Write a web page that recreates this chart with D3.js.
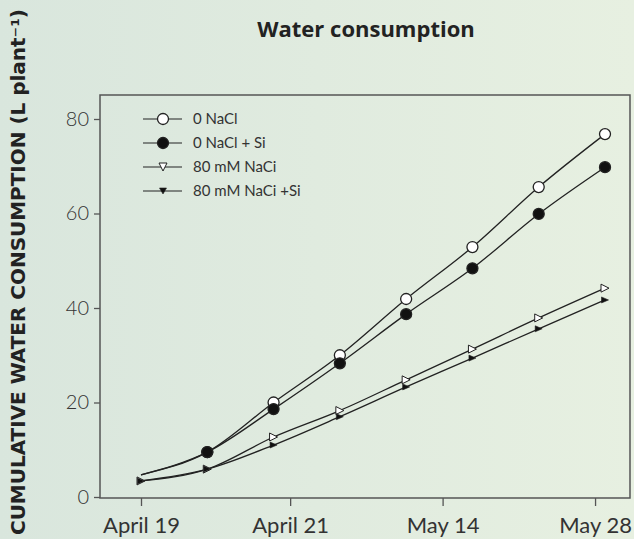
<!DOCTYPE html>
<html>
<head>
<meta charset="utf-8">
<script src="https://cdn.jsdelivr.net/npm/d3@7/dist/d3.min.js"></script>
<style>
  html, body { margin: 0; padding: 0; }
  body { width: 634px; height: 539px; overflow: hidden; }
</style>
</head>
<body>
<div id="viz"></div>
<script>
// chart values
var points = [0, 1, 2, 3, 4, 5, 6, 7];
var noNaCl     = [4.7, 9.5, 20.0, 30.0, 41.9, 52.9, 65.6, 76.8];
var noNaClSi   = [4.7, 9.5, 18.6, 28.3, 38.7, 48.4, 59.9, 69.8];
var salt80     = [3.4, 5.9, 12.7, 18.3, 24.8, 31.3, 37.9, 44.2];
var salt80Si   = [3.4, 5.9, 11.0, 17.0, 23.3, 29.4, 35.6, 41.7];
var seriesNames = ["0 NaCl", "0 NaCl + Si", "80 mM NaCi", "80 mM NaCi +Si"];
var xTickLabels = ["April 19", "April 21", "May 14", "May 28"];
var xTickAt     = [0, 2.25, 4.55, 6.85];
var yTicks      = [0, 20, 40, 60, 80];

var width = 634,
    height = 539,
    frameL = 100, frameR = 630,
    frameT = 95, frameB = 498,
    ink = "#222";

var svg = d3.select("#viz").append("svg")
    .attr("width", width)
    .attr("height", height);

var defs = svg.append("defs");
var grad = defs.append("linearGradient")
    .attr("id", "bg")
    .attr("x1", "0%").attr("x2", "100%")
    .attr("y1", "0%").attr("y2", "0%");
grad.append("stop").attr("offset", "0%").attr("stop-color", "#d9e6dd");
grad.append("stop").attr("offset", "100%").attr("stop-color", "#e7f0e1");

svg.append("rect")
    .attr("width", width)
    .attr("height", height)
    .attr("fill", "url(#bg)");

var x = d3.scaleLinear().domain([0, 7]).range([141, 605]);
var y = d3.scaleLinear().domain([0, 80]).range([497, 119]);

// title
svg.append("text")
    .attr("x", 366)
    .attr("y", 37)
    .attr("text-anchor", "middle")
    .style("font-family", "Open Sans")
    .style("font-weight", 700)
    .style("font-size", "22px")
    .style("fill", ink)
    .text("Water consumption");

// y label
svg.append("text")
    .attr("transform", "translate(25,272) rotate(-90)")
    .attr("text-anchor", "middle")
    .attr("textLength", 526)
    .attr("lengthAdjust", "spacingAndGlyphs")
    .style("font-family", "DejaVu Sans")
    .style("font-weight", 700)
    .style("font-size", "19px")
    .style("fill", ink)
    .text("CUMULATIVE WATER CONSUMPTION (L plant⁻¹)");

// frame
svg.append("rect")
    .attr("x", frameL)
    .attr("y", frameT)
    .attr("width", frameR - frameL)
    .attr("height", frameB - frameT)
    .attr("fill", "none")
    .attr("stroke", "#555")
    .attr("stroke-width", 1.5);

// y axis
var yAxis = svg.append("g")
    .attr("transform", "translate(" + frameL + ",0)")
    .call(d3.axisLeft(y).tickValues(yTicks).tickSize(6).tickPadding(5));
yAxis.select(".domain").remove();
yAxis.selectAll("line").attr("stroke", "#555").attr("stroke-width", 1.3);
yAxis.selectAll("text")
    .style("font-family", "Lato")
    .style("font-weight", 300)
    .style("font-size", "20px")
    .style("fill", "#333");

// x axis
var xAxis = svg.append("g")
    .attr("transform", "translate(0," + frameB + ")")
    .call(d3.axisBottom(x).tickValues(xTickAt)
        .tickFormat(function(d, i) { return xTickLabels[i]; })
        .tickSize(8).tickPadding(11));
xAxis.select(".domain").remove();
xAxis.selectAll("line").attr("stroke", "#555").attr("stroke-width", 1.3);
xAxis.selectAll("text")
    .style("font-family", "Lato")
    .style("font-size", "22px")
    .style("fill", "#333");

var series = [
    { name: seriesNames[0], values: noNaCl,   shape: "circle",   fill: "#fff" },
    { name: seriesNames[1], values: noNaClSi, shape: "circle",   fill: "#111" },
    { name: seriesNames[2], values: salt80,   shape: "triangle", fill: "#fff" },
    { name: seriesNames[3], values: salt80Si, shape: "triangle", fill: "#111" }
];

var line = d3.line()
    .x(function(d, i) { return x(points[i]); })
    .y(function(d) { return y(d); })
    .curve(d3.curveMonotoneX);

var plot = svg.append("g");

series.forEach(function(s) {
    plot.append("path")
        .attr("d", line(s.values))
        .attr("fill", "none")
        .attr("stroke", ink)
        .attr("stroke-width", 1.3);
});

function triPath(dir, w, h) {
    if (dir == "right") return "M" + (-w/2) + "," + (-h/2) + "L" + (w/2) + ",0L" + (-w/2) + "," + (h/2) + "Z";
    return "M" + (-w/2) + "," + (-h/2) + "L" + (w/2) + "," + (-h/2) + "L0," + (h/2) + "Z";
}

function addMarker(g, s, dir) {
    if (s.shape == "circle") {
        g.append("circle")
            .attr("r", 5.5)
            .attr("fill", s.fill)
            .attr("stroke", ink)
            .attr("stroke-width", 1.3);
    } else {
        var big = s.fill == "#fff";
        g.append("path")
            .attr("d", triPath(dir, big ? 8 : 7, big ? 8 : 6))
            .attr("fill", s.fill)
            .attr("stroke", ink)
            .attr("stroke-width", big ? 1 : 0.6);
    }
}

series.forEach(function(s) {
    s.values.forEach(function(v, i) {
        // the circle series start without a marker
        if (s.shape == "circle" && i == 0) return;
        var g = plot.append("g")
            .attr("transform", "translate(" + x(points[i]) + "," + y(v) + ")");
        addMarker(g, s, "right");
    });
});

// legend
var legend = svg.append("g");
series.forEach(function(s, i) {
    var ly = 119 + i * 24;
    legend.append("line")
        .attr("x1", 143).attr("x2", 182)
        .attr("y1", ly).attr("y2", ly)
        .attr("stroke", ink)
        .attr("stroke-width", 1.2);
    var g = legend.append("g")
        .attr("transform", "translate(163," + ly + ")");
    addMarker(g, s, "down");
    legend.append("text")
        .attr("x", 193)
        .attr("y", ly + 5)
        .style("font-family", "Lato")
        .style("font-size", "15px")
        .style("fill", "#333")
        .text(s.name);
});
</script>
</body>
</html>
